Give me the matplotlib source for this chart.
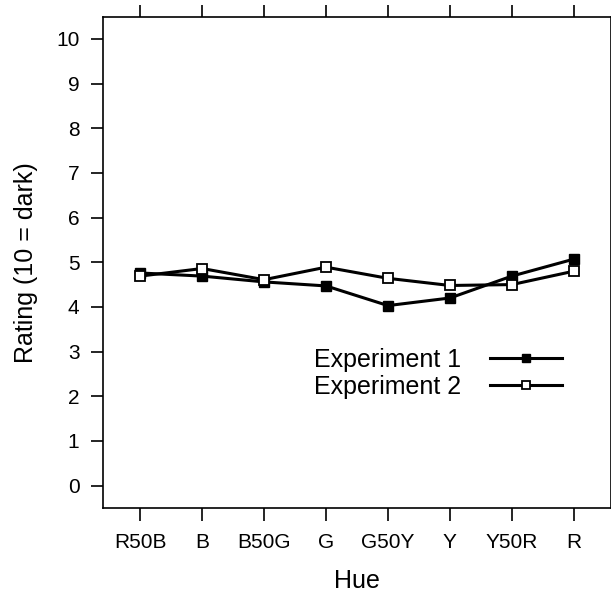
import numpy as np
import matplotlib.pyplot as plt

plt.rcParams['font.family'] = ['Liberation Sans', 'DejaVu Sans']

# hue categories and mean darkness ratings
hues = ['R50B', 'B', 'B50G', 'G', 'G50Y', 'Y', 'Y50R', 'R']
exp1 = [4.76, 4.69, 4.56, 4.47, 4.03, 4.20, 4.69, 5.07]
exp2 = [4.69, 4.86, 4.61, 4.89, 4.64, 4.48, 4.50, 4.80]
y_ticks = list(range(0, 11))

fig = plt.figure(figsize=(6.11, 5.94), dpi=100)
ax = fig.add_axes([0.1686, 0.1448, 0.8314, 0.8274])

x = np.arange(1, len(hues) + 1)
ax.plot(x, exp1, color='black', linewidth=2.2, marker='s', markersize=7,
        markerfacecolor='black', markeredgecolor='black', label='Experiment 1')
ax.plot(x, exp2, color='black', linewidth=2.2, marker='s', markersize=7,
        markerfacecolor='white', markeredgecolor='black', markeredgewidth=1.3,
        label='Experiment 2')

ax.set_xlim(0.4, len(hues) + 0.6)
ax.set_ylim(-0.5, 10.5)
ax.set_xticks(x)
ax.set_xticklabels(hues)
ax.set_yticks(y_ticks)

ax.tick_params(axis='both', direction='out', length=9, width=1.2, labelsize=15,
               pad=8, colors='black')
ax.tick_params(axis='x', top=True, labeltop=False, pad=9)
ax.tick_params(axis='y', right=False)
for s in ax.spines.values():
    s.set_linewidth(1.2)

ax.set_xlabel('Hue', fontsize=18, labelpad=12)
ax.set_ylabel('Rating (10 = dark)', fontsize=18, labelpad=13)

ax.legend(loc='center right', bbox_to_anchor=(0.929, 0.274), frameon=False,
          markerfirst=False, handlelength=2.9, fontsize=18, borderpad=0,
          labelspacing=0.1, handletextpad=1.15, markerscale=0.85)

fig.savefig('out.png', dpi=100)
